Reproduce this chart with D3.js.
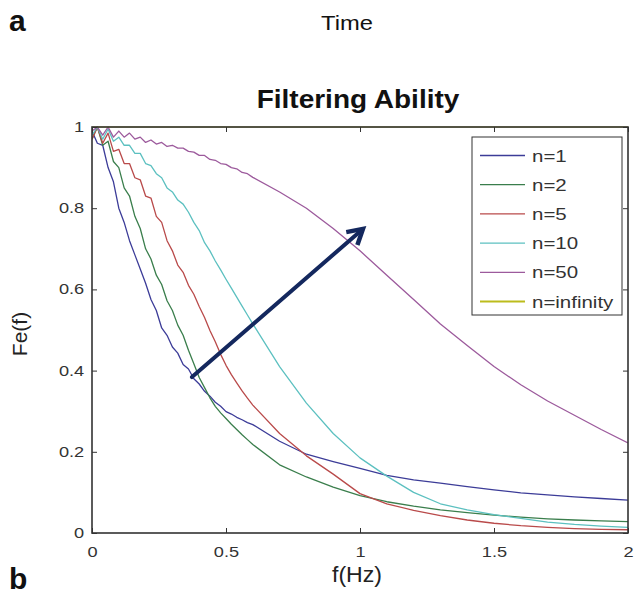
<!DOCTYPE html>
<html><head><meta charset="utf-8">
<script src="https://cdn.jsdelivr.net/npm/d3@7"></script>
<style>body{margin:0;background:#fff}svg{display:block}text{font-family:"Liberation Sans",Arial,Helvetica,sans-serif}</style>
</head><body><div id="chart"></div>
<script>
// ---- data ----
const freq = [0,0.02,0.04,0.06,0.08,0.10,0.12,0.14,0.16,0.18,0.20,0.22,0.24,0.26,0.28,0.30,0.32,0.34,0.36,0.38,0.40,0.42,0.44,0.46,0.48,0.50,0.52,0.54,0.56,0.58,0.60,
  0.7,0.8,0.9,1.0,1.1,1.2,1.3,1.4,1.5,1.6,1.7,1.8,1.9,2.0];
const n1 = [0.99,0.96,0.955,0.90,0.865,0.80,0.765,0.72,0.685,0.65,0.615,0.575,0.548,0.505,0.487,0.458,0.443,0.415,0.404,0.38,0.367,0.349,0.337,0.322,0.312,0.299,0.293,0.285,0.279,0.272,0.267,
  0.226,0.194,0.176,0.159,0.142,0.131,0.123,0.114,0.106,0.099,0.094,0.089,0.085,0.081];
const n2 = [0.97,1.0,0.955,0.965,0.915,0.9,0.85,0.83,0.78,0.75,0.70,0.675,0.635,0.612,0.572,0.548,0.512,0.487,0.45,0.417,0.383,0.358,0.333,0.312,0.296,0.282,0.268,0.255,0.242,0.23,0.218,
  0.168,0.138,0.113,0.092,0.077,0.066,0.057,0.05,0.044,0.039,0.035,0.032,0.03,0.028];
const n5 = [0.97,1.0,0.96,0.985,0.94,0.945,0.91,0.91,0.875,0.87,0.83,0.825,0.78,0.765,0.72,0.695,0.66,0.642,0.61,0.588,0.558,0.531,0.499,0.471,0.44,0.413,0.39,0.37,0.35,0.332,0.315,
  0.245,0.19,0.145,0.097,0.072,0.056,0.043,0.032,0.024,0.018,0.014,0.011,0.009,0.008];
const n10 = [0.98,1.0,0.97,0.995,0.965,0.975,0.955,0.955,0.935,0.935,0.91,0.905,0.885,0.875,0.85,0.84,0.82,0.81,0.79,0.765,0.745,0.715,0.695,0.67,0.648,0.625,0.603,0.581,0.559,0.537,0.515,
  0.41,0.32,0.245,0.185,0.14,0.10,0.072,0.057,0.045,0.036,0.027,0.021,0.017,0.014];
const n50 = [0.99,1.0,0.98,1.0,0.975,0.99,0.975,0.985,0.97,0.975,0.962,0.968,0.958,0.962,0.952,0.955,0.948,0.948,0.94,0.938,0.93,0.93,0.92,0.918,0.91,0.908,0.9,0.897,0.888,0.885,0.876,
  0.84,0.80,0.75,0.695,0.635,0.575,0.515,0.462,0.41,0.365,0.325,0.29,0.255,0.222];
const freqInf = [0, 2];
const nInf = [1, 1];
const seriesNames = ["n=1","n=2","n=5","n=10","n=50","n=infinity"];
const seriesColors = ["#3c3c98","#3a7e4c","#b94a4a","#5cc0c0","#9c5a9c","#bcbc1c"];
const xTickVals = [0,0.5,1,1.5,2];
const yTickVals = [0,0.2,0.4,0.6,0.8,1];
const arrowFrom = [0.373,0.384];
const arrowTo = [1.011,0.749];

// ---- chart ----
const W = 635, H = 595;
const svg = d3.select("#chart").append("svg").attr("width", W).attr("height", H);
const x = d3.scaleLinear().domain([0,2]).range([92,628]);
const y = d3.scaleLinear().domain([0,1]).range([533,127]);

function stext(px, py, str, size, sx, opts = {}) {
  const g = svg.append("g").attr("transform", `translate(${px},${py}) scale(${sx},1)` + (opts.rotate ? ` rotate(${opts.rotate})` : ""));
  return g.append("text").text(str).attr("font-size", size)
    .attr("font-weight", opts.bold ? "bold" : "normal")
    .attr("text-anchor", opts.anchor || "middle")
    .attr("fill", opts.fill || "#111");
}

stext(9, 31, "a", 30, 1, {bold: true, anchor: "start"});
stext(9, 589, "b", 30, 1, {bold: true, anchor: "start"});
stext(347, 30, "Time", 21, 1.13);
stext(358, 108, "Filtering Ability", 25, 1.12, {bold: true});

svg.append("defs").append("clipPath").attr("id", "clip")
  .append("rect").attr("x", 92).attr("y", 126).attr("width", 536).attr("height", 408);

const line = d3.line().x(d => x(d[0])).y(d => y(d[1]));
const seriesData = [
  d3.zip(freq, n1), d3.zip(freq, n2), d3.zip(freq, n5),
  d3.zip(freq, n10), d3.zip(freq, n50), d3.zip(freqInf, nInf)
];
const plot = svg.append("g").attr("clip-path", "url(#clip)");
seriesData.forEach((d, i) => {
  plot.append("path").datum(d).attr("d", line)
    .attr("fill", "none").attr("stroke", seriesColors[i]).attr("stroke-width", i === 5 ? 1 : 1.3)
    .attr("stroke-linejoin", "round");
});

// arrow
const ax0 = x(arrowFrom[0]), ay0 = y(arrowFrom[1]), ax1 = x(arrowTo[0]), ay1 = y(arrowTo[1]);
const ang = Math.atan2(ay1 - ay0, ax1 - ax0);
const bl = 17, ba = Math.PI / 6;
svg.append("line").attr("x1", ax0).attr("y1", ay0).attr("x2", ax1 - 2*Math.cos(ang)).attr("y2", ay1 - 2*Math.sin(ang))
  .attr("stroke", "#14285e").attr("stroke-width", 4).attr("stroke-linecap", "round");
svg.append("path")
  .attr("d", `M${ax1 - bl*Math.cos(ang - ba)},${ay1 - bl*Math.sin(ang - ba)} L${ax1},${ay1} L${ax1 - bl*Math.cos(ang + ba)},${ay1 - bl*Math.sin(ang + ba)}`)
  .attr("fill", "none").attr("stroke", "#14285e").attr("stroke-width", 4.5).attr("stroke-linejoin", "miter");

// axes
const fmt = d3.format("");
const axB = svg.append("g").attr("transform", "translate(0,533)")
  .call(d3.axisBottom(x).tickValues(xTickVals).tickFormat(fmt).tickSizeInner(-5).tickSizeOuter(0).tickPadding(14));
const axT = svg.append("g").attr("transform", "translate(0,127)")
  .call(d3.axisTop(x).tickValues(xTickVals).tickFormat("").tickSizeInner(-5).tickSizeOuter(0));
const axL = svg.append("g").attr("transform", "translate(92,0)")
  .call(d3.axisLeft(y).tickValues(yTickVals).tickFormat(fmt).tickSizeInner(-5).tickSizeOuter(0).tickPadding(6));
const axR = svg.append("g").attr("transform", "translate(628,0)")
  .call(d3.axisRight(y).tickValues(yTickVals).tickFormat("").tickSizeInner(-5).tickSizeOuter(0));
[axB, axT, axL, axR].forEach(a => {
  a.select(".domain").remove();
  a.selectAll("line").attr("stroke", "#333").attr("stroke-width", 1);
  a.selectAll("text").attr("font-size", 14).attr("fill", "#333")
    .attr("font-family", '"Liberation Sans",Arial,sans-serif');
});
axB.selectAll("text").attr("transform", "scale(1.3,1)");
axL.selectAll("text").attr("transform", "scale(1.3,1)");

svg.append("rect").attr("x", 92).attr("y", 127).attr("width", 536).attr("height", 406)
  .attr("fill", "none").attr("stroke", "#333").attr("stroke-width", 1.6);

stext(357, 582, "f(Hz)", 22, 1.05, {fill: "#222"});
stext(27, 334, "Fe(f)", 21, 1, {fill: "#222", rotate: -90});

// legend
const lg = svg.append("g");
lg.append("rect").attr("x", 472).attr("y", 137).attr("width", 150).attr("height", 178)
  .attr("fill", "#fff").attr("stroke", "#333").attr("stroke-width", 1);
seriesNames.forEach((nm, i) => {
  const yy = 155.5 + i * 29.2;
  lg.append("line").attr("x1", 480).attr("x2", 525).attr("y1", yy).attr("y2", yy)
    .attr("stroke", seriesColors[i]).attr("stroke-width", i === 5 ? 2 : 1.3);
  const g = lg.append("g").attr("transform", `translate(532,${yy + 6}) scale(1.28,1)`);
  g.append("text").text(nm).attr("font-size", 16).attr("fill", "#333");
});
</script></body></html>
